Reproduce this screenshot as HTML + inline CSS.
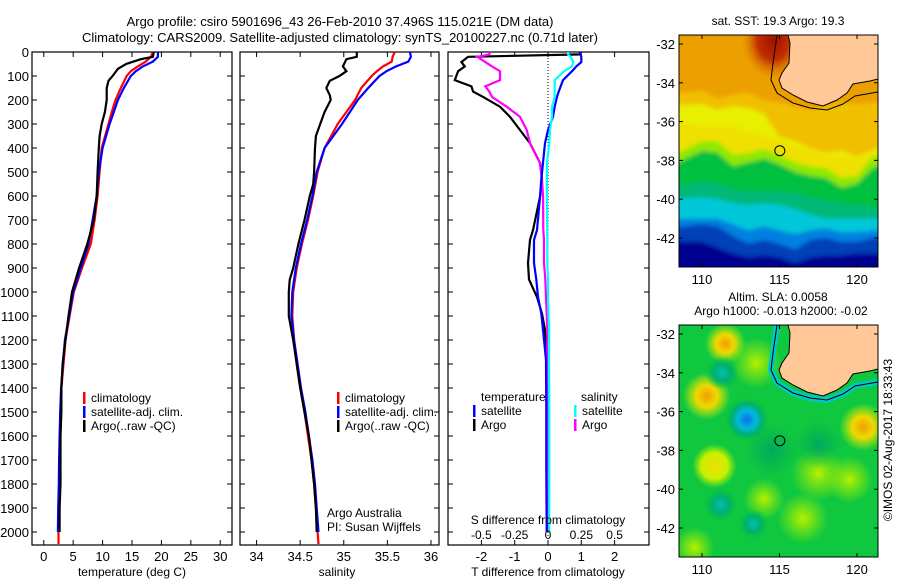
<!DOCTYPE html>
<html><head><meta charset="utf-8"><style>
body{margin:0;background:#fff;}
svg{display:block;font-family:"Liberation Sans",sans-serif;}
text{fill:#000;}
</style></head><body>
<svg id="fig" width="900" height="580" viewBox="0 0 900 580">
<defs>
<clipPath id="c1"><rect x="32" y="52" width="200" height="493"/></clipPath>
<clipPath id="c2"><rect x="240" y="52" width="199" height="493"/></clipPath>
<clipPath id="c3"><rect x="448" y="52" width="201" height="493"/></clipPath>
<clipPath id="m1"><rect x="679" y="35" width="199" height="232"/></clipPath>
<clipPath id="m2"><rect x="679" y="325" width="199" height="232"/></clipPath>
<filter id="blur" x="-20%" y="-20%" width="140%" height="140%"><feGaussianBlur stdDeviation="2"/></filter>
<radialGradient id="gOr"><stop offset="0" stop-color="#f0a000"/><stop offset="0.45" stop-color="#f0d800"/><stop offset="1" stop-color="#c8f000" stop-opacity="0"/></radialGradient>
<radialGradient id="gYe"><stop offset="0" stop-color="#f0e000"/><stop offset="0.6" stop-color="#c8f000"/><stop offset="1" stop-color="#a0f000" stop-opacity="0"/></radialGradient>
<radialGradient id="gLi"><stop offset="0" stop-color="#b8f000"/><stop offset="1" stop-color="#a0f000" stop-opacity="0"/></radialGradient>
<radialGradient id="gBl"><stop offset="0" stop-color="#1070e0"/><stop offset="0.4" stop-color="#00b8e0"/><stop offset="0.7" stop-color="#00b070"/><stop offset="1" stop-color="#00c040" stop-opacity="0"/></radialGradient>
<radialGradient id="gTe"><stop offset="0" stop-color="#00c0b0"/><stop offset="0.5" stop-color="#00b070"/><stop offset="1" stop-color="#00c040" stop-opacity="0"/></radialGradient>
<radialGradient id="gDg"><stop offset="0" stop-color="#00a860"/><stop offset="1" stop-color="#00b050" stop-opacity="0"/></radialGradient>
<radialGradient id="gRed"><stop offset="0" stop-color="#a01000"/><stop offset="0.5" stop-color="#c03000"/><stop offset="1" stop-color="#e08000" stop-opacity="0"/></radialGradient>
</defs>
<g>
<text x="340" y="26" font-size="13" text-anchor="middle">Argo profile: csiro 5901696_43 26-Feb-2010 37.496S 115.021E (DM data)</text>
<text x="340" y="42" font-size="13" text-anchor="middle">Climatology: CARS2009. Satellite-adjusted climatology: synTS_20100227.nc (0.71d later)</text>
</g>
<g id="p1"></g>
<g id="p2"></g>
<g id="p3"></g>
<g id="map1"></g>
<g id="map2"></g>
<text x="892" y="440" font-size="12" text-anchor="middle" transform="rotate(-90 892 440)">©IMOS 02-Aug-2017 18:33:43</text>
</svg>
<script>
// ---- data ----
const depthT = [0,20,40,60,80,100,150,200,250,300,400,500,600,700,800,900,1000,1100,1200,1300,1400,1500,1600,1700,1800,1900,2000,2050];
const tempClim = [18.55,18.2,17.35,16.0,14.8,14.1,13.1,12.2,11.55,11.0,9.85,9.5,9.15,8.65,8.0,6.5,5.1,4.4,3.7,3.35,3.0,2.85,2.8,2.7,2.65,2.55,2.5,2.5];
const tempSat = [19.4,19.4,18.55,16.85,15.65,14.8,13.6,12.6,11.9,11.2,10.0,9.35,9.0,8.3,7.6,6.3,5.0,4.3,3.6,3.25,2.95,2.8,2.7,2.6,2.55,2.45,2.4];
const depthArgo = [0,20,30,50,70,100,120,150,200,250,300,350,400,500,600,700,800,900,1000,1100,1200,1300,1400,1500,1600,1700,1800,1900,2000];
const tempArgo = [18.7,18.55,16.5,14.0,12.6,11.7,11.0,10.7,10.7,10.4,9.85,9.5,9.35,9.15,9.0,8.5,7.4,6.0,4.8,4.2,3.7,3.2,3.0,3.0,2.85,2.85,2.85,2.7,2.7];
const salClim = [35.585,35.56,35.55,35.45,35.38,35.32,35.2,35.13,35.03,34.93,34.78,34.70,34.65,34.59,34.52,34.46,34.42,34.41,34.43,34.46,34.5,34.55,34.59,34.63,34.66,34.68,34.7,34.71];
const salSat = [35.76,35.77,35.74,35.6,35.49,35.41,35.28,35.16,35.07,34.98,34.78,34.69,34.64,34.58,34.51,34.45,34.41,34.40,34.43,34.47,34.51,34.56,34.6,34.64,34.67,34.69,34.71];
const depthArgoS = [0,20,30,60,80,100,120,150,180,200,250,300,350,400,500,550,600,700,800,900,950,1000,1100,1200,1300,1400,1500,1600,1700,1800,1900,2000];
const salArgo = [35.15,35.15,35.03,34.99,35.03,34.95,34.84,34.8,34.84,34.85,34.78,34.73,34.68,34.67,34.66,34.65,34.61,34.55,34.48,34.42,34.38,34.37,34.37,34.42,34.46,34.5,34.55,34.6,34.63,34.66,34.68,34.69];
const depthD = [0,10,20,42,60,80,117,143,165,187,228,270,325,380,462,530,604,742,783,879,948,1021,1090,1158,1283,1500,1750,2000];
const tDiffArgo = [0.96,0.96,-2.4,-2.6,-2.5,-2.7,-2.8,-2.3,-2.25,-1.95,-1.44,-1.14,-0.84,-0.54,-0.24,-0.18,-0.24,-0.45,-0.54,-0.6,-0.57,-0.33,-0.18,-0.09,-0.03,-0.02,-0.02,-0.02];
const tDiffSat = [0.96,0.98,1.0,1.0,0.85,0.72,0.45,0.38,0.32,0.27,0.2,0.15,0.0,-0.09,-0.15,-0.2,-0.24,-0.33,-0.42,-0.42,-0.35,-0.3,-0.2,-0.15,-0.06,-0.05,-0.05,-0.04];
const sDiffArgo = [-0.435,-0.44,-0.53,-0.47,-0.42,-0.36,-0.36,-0.47,-0.44,-0.42,-0.31,-0.21,-0.16,-0.135,-0.06,-0.045,-0.037,-0.035,-0.03,-0.03,-0.02,-0.015,-0.01,-0.005,-0.005,-0.005,0,0];
const sDiffSat = [0.15,0.15,0.17,0.19,0.18,0.12,0.05,0.05,0.05,0.05,0.03,0.03,0.015,0.01,-0.008,-0.008,-0.008,-0.006,-0.005,-0.005,0,0,0.004,0.008,0.008,0.01,0.01,0.01];
const depthTicks = [0,100,200,300,400,500,600,700,800,900,1000,1100,1200,1300,1400,1500,1600,1700,1800,1900,2000];
const tempTicks = [0,5,10,15,20,25,30];
const salTicks = [34,34.5,35,35.5,36];
const tDiffTicks = [-2,-1,0,1,2];
const sDiffTicks = [-0.5,-0.25,0,0.25,0.5];
const lonTicks = [110,115,120];
const latTicks = [-32,-34,-36,-38,-40,-42];

const NS = "http://www.w3.org/2000/svg";
function mk(tag, attrs, parent){ const e=document.createElementNS(NS,tag); for(const k in attrs) e.setAttribute(k,attrs[k]); if(parent) parent.appendChild(e); return e; }
function txt(parent, x, y, s, size, anchor){ const t=mk('text',{x:x,y:y,'font-size':size||12,'text-anchor':anchor||'middle'},parent); t.textContent=s; return t; }

const yD = d => 52 + d*0.24;
const xT = v => 32 + (v+2)*200/34;
const xS = v => 240 + (v-33.81)*87.2;
const xTD = v => 548 + v*33.3;
const xSD = v => 548 + v*133.3;

function frame(g, x0, x1, xs, ticks, labels, showDepthLabels){
  const r = mk('rect',{x:x0,y:52,width:x1-x0,height:493,fill:'none',stroke:'#000','stroke-width':1.2},g);
   
  depthTicks.forEach(d=>{
    mk('line',{x1:x0,x2:x0+5,y1:yD(d),y2:yD(d),stroke:'#000'},g);
    mk('line',{x1:x1-5,x2:x1,y1:yD(d),y2:yD(d),stroke:'#000'},g);
    if(showDepthLabels){ const t=txt(g,29,yD(d)+5,String(d),13,'end');
        }
  });
  ticks.forEach(v=>{
    mk('line',{x1:xs(v),x2:xs(v),y1:52,y2:57,stroke:'#000'},g);
    mk('line',{x1:xs(v),x2:xs(v),y1:540,y2:545,stroke:'#000'},g);
    if(labels){ const t=txt(g,xs(v),561,String(v),13);
        }
  });
}
function line(g, xs, xf, depths, vals, color, name, clip){
  const pts = vals.map((v,i)=>xf(v).toFixed(1)+','+yD(depths[i]).toFixed(1)).join(' ');
  const p = mk('polyline',{points:pts,fill:'none',stroke:color,'stroke-width':2.2,'clip-path':'url(#'+clip+')'},g);
   
}
function legend(g, x, y, items){
  items.forEach((it,i)=>{
    mk('rect',{x:x,y:y+i*14-10,width:2.5,height:12,fill:it[1]},g);
    const t=txt(g,x+8,y+i*14,it[0],12,'start');
     
  });
}

// Panel 1
const p1=document.getElementById('p1');
frame(p1,32,232,xT,tempTicks,true,true);
line(p1,null,xT,depthT,tempClim,'#ff0000','climatology-temp-line','c1');
line(p1,null,xT,depthT,tempSat,'#0000ff','satellite-temp-line','c1');
line(p1,null,xT,depthArgo,tempArgo,'#000000','argo-temp-line','c1');
legend(p1,83,402,[['climatology','#ff0000'],['satellite-adj. clim.','#0000ff'],['Argo(..raw -QC)','#000']]);
let t=txt(p1,132,576,'temperature (deg C)',12);  

// Panel 2
const p2=document.getElementById('p2');
frame(p2,240,439,xS,salTicks,true,false);
line(p2,null,xS,depthT,salClim,'#ff0000','climatology-salinity-line','c2');
line(p2,null,xS,depthT,salSat,'#0000ff','satellite-salinity-line','c2');
line(p2,null,xS,depthArgoS,salArgo,'#000000','argo-salinity-line','c2');
legend(p2,337,402,[['climatology','#ff0000'],['satellite-adj. clim.','#0000ff'],['Argo(..raw -QC)','#000']]);
t=txt(p2,327,517,'Argo Australia',12,'start');  
t=txt(p2,327,531,'PI: Susan Wijffels',12,'start');  
t=txt(p2,337,576,'salinity',12);  

// Panel 3
const p3=document.getElementById('p3');
frame(p3,448,649,xTD,tDiffTicks,true,false);
mk('line',{x1:xTD(0),x2:xTD(0),y1:52,y2:545,stroke:'#000','stroke-dasharray':'1,2'},p3);
line(p3,null,xTD,depthD,tDiffArgo,'#000000','argo-temp-diff-line','c3');
line(p3,null,xSD,depthD,sDiffArgo,'#ff00ff','argo-sal-diff-line','c3');
line(p3,null,xTD,depthD,tDiffSat,'#0000ff','satellite-temp-diff-line','c3');
line(p3,null,xSD,depthD,sDiffSat,'#00ffff','satellite-sal-diff-line','c3');
sDiffTicks.forEach(v=>{ const tt=txt(p3,xSD(v),539,String(v),12);   });
t=txt(p3,548,524,'S difference from climatology',12);  
t=txt(p3,548,576,'T difference from climatology',12);  
t=txt(p3,481,401,'temperature',12,'start');  
t=txt(p3,581,401,'salinity',12,'start');  
legend(p3,473,415,[['satellite','#0000ff'],['Argo','#000']]);
legend(p3,574,415,[['satellite','#00ffff'],['Argo','#ff00ff']]);

// Maps
const mX = lon => 702 + (lon-110)*15.5;
const landPts = [[788,35],[790,43],[789,63],[782,73],[779,80],[782,88],[793,95],[807,102],[823,106],[837,100],[847,93],[853,84],[870,81],[878,79],[878,35]];
const isoPts = [[777,35],[773,63],[771,80],[777,93],[793,103],[810,108],[827,110],[843,104],[855,96],[878,92]];
const bandLons = [108.5,110,111,112,113,114,115,116,117,118,119,120,121,121.4];
const sstBands = [
 ['#f0c000',[-34.6,-34.4,-34.8,-34.6,-34.5,-34.9,-35.0,-35.2,-35.4,-35.2,-35.0,-35.1,-35.0,-35.0]],
 ['#e8f000',[-35.2,-35.1,-35.4,-35.2,-35.3,-35.6,-36.8,-37.0,-37.4,-37.6,-37.5,-37.8,-37.5,-37.0]],
 ['#f0e000',[-36.0,-36.2,-36.3,-36.2,-36.5,-36.7,-37.0,-37.2,-37.5,-37.7,-37.8,-37.9,-37.7,-37.4]],
 ['#90e800',[-37.8,-37.0,-37.0,-37.7,-37.6,-37.4,-37.7,-38.1,-38.3,-38.4,-38.9,-38.8,-37.8,-37.6]],
 ['#00c040',[-38.3,-37.5,-37.6,-38.3,-38.1,-37.9,-38.2,-38.6,-38.8,-38.9,-39.4,-39.2,-38.4,-38.1]],
 ['#00b878',[-39.4,-39.1,-39.2,-39.5,-39.6,-39.6,-39.6,-39.7,-39.9,-40.1,-40.2,-40.3,-40.4,-40.5]],
 ['#00c8d8',[-40.0,-39.9,-40.0,-40.2,-40.3,-40.2,-40.3,-40.5,-40.8,-41.0,-41.0,-41.0,-41.0,-41.0]],
 ['#0080e0',[-41.0,-41.0,-41.0,-41.3,-41.6,-41.4,-41.6,-41.8,-41.6,-41.5,-41.7,-41.7,-41.6,-41.6]],
 ['#0040b8',[-41.5,-41.3,-41.4,-41.9,-42.3,-42.1,-42.3,-42.6,-42.1,-42.0,-42.2,-42.2,-42.0,-42.0]],
 ['#000090',[-42.2,-42.2,-42.5,-42.8,-43.0,-42.9,-43.0,-43.3,-43.0,-42.9,-42.9,-42.8,-42.8,-42.8]]
];
const slaBlobs = [
 ['gOr',111.5,-32.5,1.2],['gOr',110.3,-35.2,1.4],['gYe',110.8,-38.8,1.3],['gOr',120.4,-36.8,1.4],
 ['gLi',117.5,-39.2,1.6],['gLi',119.5,-39.5,1.4],['gLi',113.5,-33.5,1.5],['gLi',116.5,-41.5,1.5],['gLi',114,-40.5,1.2],['gLi',109.5,-43,1.2],
 ['gBl',112.9,-36.4,1.3],['gTe',111.3,-34,1.0],['gTe',111.2,-40.8,1.0],['gDg',117.5,-37.7,1.4],['gTe',113.3,-41.8,0.9],['gDg',114.5,-38,1.6]
];
function drawMap(gid, top, clip, kind){
  const g=document.getElementById(gid);
  const yL = lat => top + (-32-lat)*19.4;
  const dy = top-44;
  const inner = mk('g',{'clip-path':'url(#'+clip+')'},g);
  if(kind==='sst'){
    mk('rect',{x:679,y:top-9,width:199,height:232,fill:'#eca000'},inner);
    mk('ellipse',{cx:mX(114.6),cy:yL(-31.8),rx:32,ry:40,fill:'url(#gRed)'},inner);
    const bg = mk('g',{filter:'url(#blur)'},inner);
    sstBands.forEach(b=>{
      let d='M 670 '+(top+240)+' ';
      b[1].forEach((lat,i)=>{ d+='L '+(bandLons[i]===108.5?670:(bandLons[i]===121.4?890:mX(bandLons[i])))+' '+yL(lat)+' '; });
      d+='L 890 '+(top+240)+' Z';
      const p=mk('path',{d:d,fill:b[0]},bg);
       
    });
  } else {
    mk('rect',{x:679,y:top-9,width:199,height:232,fill:'#10c840'},inner);
    slaBlobs.forEach(b=>{
      const c=mk('circle',{cx:mX(b[1]),cy:yL(b[2]),r:b[3]*17,fill:'url(#'+b[0]+')'},inner);
       
    });
    mk('polyline',{points:isoPts.map(p=>p[0]+','+(p[1]+dy)).join(' '),fill:'none',stroke:'#00c8c8','stroke-width':6},inner);
  }
  const land=mk('polygon',{points:landPts.map(p=>p[0]+','+(p[1]+dy)).join(' '),fill:'#ffc896',stroke:'#000','stroke-width':1},inner);
   
  const iso=mk('polyline',{points:isoPts.map(p=>p[0]+','+(p[1]+dy)).join(' '),fill:'none',stroke:'#000','stroke-width':1},inner);
   
  const c=mk('circle',{cx:mX(115.02),cy:yL(-37.5),r:5,fill:'none',stroke:'#000','stroke-width':1},g);
   
  const fr=mk('rect',{x:679,y:top-9,width:199,height:232,fill:'none',stroke:'#000','stroke-width':1},g);
   
  lonTicks.forEach(lo=>{
    mk('line',{x1:mX(lo),x2:mX(lo),y1:top-9,y2:top-5,stroke:'#000'},g);
    mk('line',{x1:mX(lo),x2:mX(lo),y1:top+219,y2:top+223,stroke:'#000'},g);
    const tt=txt(g,mX(lo),top+240,String(lo),13);  
  });
  latTicks.forEach(la=>{
    mk('line',{x1:679,x2:683,y1:yL(la),y2:yL(la),stroke:'#000'},g);
    mk('line',{x1:874,x2:878,y1:yL(la),y2:yL(la),stroke:'#000'},g);
    const tt=txt(g,675,yL(la)+5,String(la),13,'end');  
  });
}
drawMap('map1',44,'m1','sst');
drawMap('map2',334,'m2','sla');
const m1=document.getElementById('map1'), m2=document.getElementById('map2');
t=txt(m1,778,25,'sat. SST: 19.3 Argo: 19.3',12);  
t=txt(m2,778,301,'Altim. SLA: 0.0058',12);  
t=txt(m2,781,315,'Argo h1000: -0.013 h2000: -0.02',12);  
</script>
</body></html>
